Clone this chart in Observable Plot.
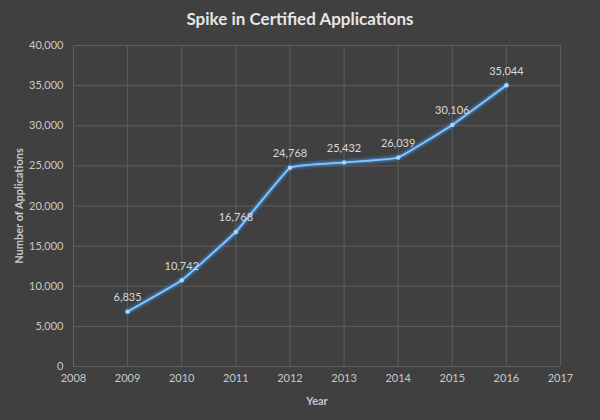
<!DOCTYPE html>
<html>
<head>
<meta charset="utf-8">
<script src="https://cdn.jsdelivr.net/npm/d3@7"></script>
<script src="https://cdn.jsdelivr.net/npm/@observablehq/plot@0.6"></script>
<style>
  html, body { margin: 0; padding: 0; background: #404040; }
  #wrap { width: 600px; height: 420px; background: #404040; font-family: Lato, "Open Sans", sans-serif; }
  #title { height: 38px; line-height: 38px; text-align: center; color: #e6e6e6; font-size: 17px; font-weight: bold; }
  svg { display: block; }
</style>
</head>
<body>
<div id="wrap">
  <div id="title">Spike in Certified Applications</div>
  <div id="chart"></div>
</div>
<script>
const years = [2009, 2010, 2011, 2012, 2013, 2014, 2015, 2016];
const applications = [6835, 10742, 16768, 24768, 25432, 26039, 30106, 35044];
const xTicks = [2008, 2009, 2010, 2011, 2012, 2013, 2014, 2015, 2016, 2017];
const yTicks = [0, 5000, 10000, 15000, 20000, 25000, 30000, 35000, 40000];

const data = years.map((y, i) => ({year: y, value: applications[i]}));
const fmt = d3.format(",");
const lineOpts = {x: "year", y: "value", curve: "cardinal", tension: 0.75};

const chart = Plot.plot({
  width: 600,
  height: 382,
  marginTop: 7,
  marginBottom: 54,
  marginLeft: 73,
  marginRight: 40,
  style: {background: "#404040", color: "#bfbfbf", fontFamily: "Lato, 'Open Sans', sans-serif", fontSize: "11px"},
  x: {domain: [2008, 2017], ticks: xTicks, tickFormat: d => String(d), label: null},
  y: {domain: [0, 40000], ticks: yTicks, tickFormat: fmt, label: null},
  marks: [
    Plot.gridX(xTicks, {stroke: "#5e5e5e", strokeOpacity: 1}),
    Plot.gridY(yTicks, {stroke: "#5e5e5e", strokeOpacity: 1}),
    Plot.axisX({ticks: xTicks, tickFormat: d => String(d), tickSize: 0, tickPadding: 8, fill: "#c8c8c8", fontSize: 11,
      label: "Year", labelAnchor: "center", labelArrow: "none", labelOffset: 38}),
    Plot.axisY({ticks: yTicks, tickFormat: fmt, tickSize: 0, tickPadding: 10, fill: "#c8c8c8", fontSize: 11,
      label: "Number of Applications", labelAnchor: "center", labelArrow: "none", labelOffset: 58}),
    Plot.line(data, {...lineOpts, stroke: "#2f7fd0", strokeWidth: 8, strokeOpacity: 0.22}),
    Plot.line(data, {...lineOpts, stroke: "#3d8fe0", strokeWidth: 4.5, strokeOpacity: 0.45}),
    Plot.line(data, {...lineOpts, stroke: "#8cc6f5", strokeWidth: 1.8}),
    Plot.dot(data, {x: "year", y: "value", r: 2.2, fill: "#a9d6fa", stroke: "none"}),
    Plot.text(data, {x: "year", y: "value", text: d => fmt(d.value), dy: -14, fill: "#d9d9d9", fontSize: 11})
  ]
});
document.getElementById("chart").appendChild(chart);

chart.querySelectorAll("g[aria-label='x-axis label'] text, g[aria-label='y-axis label'] text").forEach(t => {
  t.setAttribute("font-weight", "bold");
  t.setAttribute("fill", "#c8c8c8");
});
</script>
</body>
</html>
